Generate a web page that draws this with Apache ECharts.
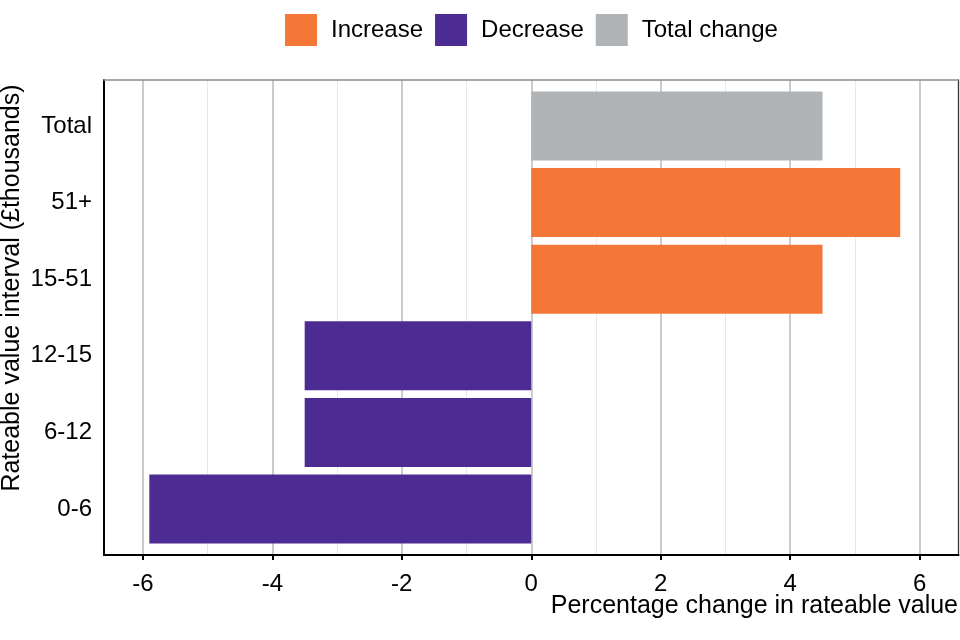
<!DOCTYPE html>
<html>
<head>
<meta charset="utf-8">
<script src="https://cdn.jsdelivr.net/npm/echarts@6/dist/echarts.min.js"></script>
<style>html,body{margin:0;padding:0;background:#fff}#c{width:960px;height:640px}</style>
</head>
<body>
<div id="c"></div>
<script>
const categories = ['0-6', '6-12', '12-15', '15-51', '51+', 'Total'];
const increaseValues = [null, null, null, 4.5, 5.7, null];
const decreaseValues = [-5.9, -3.5, -3.5, null, null, null];
const totalValues = [null, null, null, null, null, 4.5];
const seriesNames = ['Increase', 'Decrease', 'Total change'];
const xTitle = 'Percentage change in rateable value';
const yTitle = 'Rateable value interval (£thousands)';

const FONT = '"Liberation Sans", Arial, Helvetica, sans-serif';
const colors = ['#F47738', '#4C2C92', '#B1B4B6'];

const chart = echarts.init(document.getElementById('c'), null, {renderer: 'canvas'});

const panel = {left: 104, right: 1.5, top: 80, bottom: 85};
const unit = 475 / 6.2;
const pad = 0.1 * unit;

chart.setOption({
  animation: false,
  backgroundColor: '#fff',
  textStyle: {fontFamily: FONT},
  legend: {
    data: seriesNames,
    left: 280, top: 9,
    itemWidth: 32, itemHeight: 32, itemGap: 12,
    icon: 'rect',
    textStyle: {fontFamily: FONT, fontSize: 24, color: '#000', padding: [0, 0, 0, 9]}
  },
  grid: [
    {left: panel.left, right: panel.right, top: panel.top, bottom: panel.bottom},
    {left: panel.left + 0.6 * 64.735, right: 960 - (panel.left + 12.6 * 64.735), top: panel.top, bottom: panel.bottom},
    {left: panel.left, right: panel.right, top: panel.top + pad, bottom: panel.bottom + pad}
  ],
  xAxis: [
    {gridIndex: 0, type: 'value', min: -6.6, max: 6.6, position: 'bottom',
     axisLine: {show: true, onZero: false, lineStyle: {color: '#000', width: 2}},
     axisTick: {show: false}, axisLabel: {show: false}, splitLine: {show: false}},
    {gridIndex: 0, type: 'value', min: -6.6, max: 6.6, position: 'top',
     axisLine: {show: true, onZero: false, lineStyle: {color: '#8c8c8c', width: 1.5}},
     axisTick: {show: false}, axisLabel: {show: false}, splitLine: {show: false}},
    {gridIndex: 1, type: 'value', min: -6, max: 6, interval: 2, position: 'bottom',
     axisLine: {show: false, onZero: false},
     axisTick: {show: true, length: 5, lineStyle: {color: '#000', width: 2}},
     axisLabel: {show: true, fontFamily: FONT, fontSize: 24, color: '#000', margin: 17},
     splitLine: {show: true, lineStyle: {color: '#cccccc', width: 2}},
     minorTick: {show: false, splitNumber: 2},
     minorSplitLine: {show: true, lineStyle: {color: '#e8e8e8', width: 1}}},
    {gridIndex: 2, type: 'value', min: -6.6, max: 6.6, show: false}
  ],
  yAxis: [
    {gridIndex: 0, type: 'value', min: 0, max: 1, position: 'left',
     axisLine: {show: true, onZero: false, lineStyle: {color: '#000', width: 2}},
     axisTick: {show: false}, axisLabel: {show: false}, splitLine: {show: false}},
    {gridIndex: 0, type: 'value', min: 0, max: 1, position: 'right',
     axisLine: {show: true, onZero: false, lineStyle: {color: '#333', width: 1.3}},
     axisTick: {show: false}, axisLabel: {show: false}, splitLine: {show: false}},
    {gridIndex: 1, type: 'value', min: 0, max: 1, show: false},
    {gridIndex: 2, type: 'category', data: categories,
     axisLine: {show: false}, axisTick: {show: false},
     axisLabel: {show: true, fontFamily: FONT, fontSize: 24, color: '#000', margin: 12},
     splitLine: {show: false}}
  ],
  series: [
    {name: seriesNames[0], type: 'bar', xAxisIndex: 3, yAxisIndex: 3, stack: 's', data: increaseValues,
     barWidth: '90%', itemStyle: {color: colors[0]}},
    {name: seriesNames[1], type: 'bar', xAxisIndex: 3, yAxisIndex: 3, stack: 's', data: decreaseValues,
     barWidth: '90%', itemStyle: {color: colors[1]}},
    {name: seriesNames[2], type: 'bar', xAxisIndex: 3, yAxisIndex: 3, stack: 's', data: totalValues,
     barWidth: '90%', itemStyle: {color: colors[2]}}
  ],
  graphic: [
    {type: 'text', x: 958, y: 606,
     style: {text: xTitle, font: '25px ' + FONT, fill: '#000', align: 'right', verticalAlign: 'middle'}},
    {type: 'text', x: 12.5, y: 288, rotation: Math.PI / 2,
     style: {text: yTitle, font: '25px ' + FONT, fill: '#000', align: 'center', verticalAlign: 'middle'}}
  ]
});
</script>
</body>
</html>
